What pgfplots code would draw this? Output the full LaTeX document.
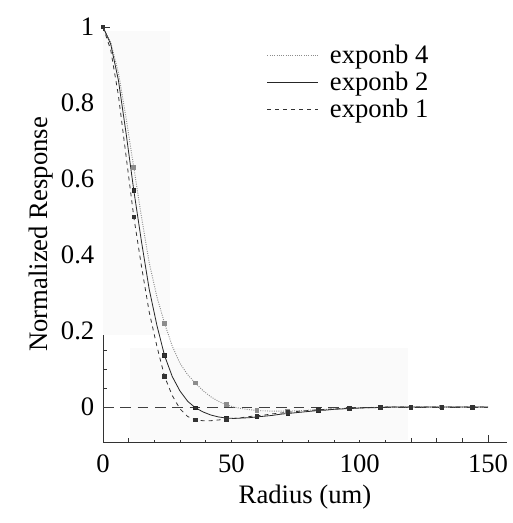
\documentclass[border=0pt]{standalone}
\usepackage{fontspec}
\setmainfont{Liberation Serif}
\newfontfamily\tnr{Liberation Serif}
\usepackage{pgfplots}
\pgfplotsset{compat=1.18}
\usepackage{pgfplotstable}
\pgfplotstableread{
x d4 d2 d1
0 1.0 1.0 1.0
3 0.96 0.955 0.94
6 0.88 0.86 0.82
9 0.76 0.72 0.66
12 0.63 0.57 0.50
15 0.50 0.435 0.37
18 0.38 0.31 0.25
21 0.29 0.215 0.16
24 0.22 0.135 0.08
27 0.16 0.08 0.03
30 0.115 0.042 -0.005
33 0.085 0.015 -0.025
36 0.063 -0.002 -0.034
39 0.043 -0.013 -0.036
42 0.027 -0.021 -0.036
45 0.015 -0.026 -0.034
48 0.006 -0.029 -0.032
51 0.0 -0.030 -0.030
54 -0.004 -0.029 -0.028
57 -0.007 -0.028 -0.025
60 -0.009 -0.026 -0.023
63 -0.010 -0.024 -0.021
66 -0.011 -0.022 -0.018
69 -0.011 -0.019 -0.016
72 -0.011 -0.017 -0.014
75 -0.010 -0.015 -0.012
78 -0.009 -0.013 -0.010
81 -0.008 -0.011 -0.009
84 -0.007 -0.009 -0.007
87 -0.006 -0.008 -0.006
90 -0.005 -0.006 -0.005
93 -0.004 -0.005 -0.004
96 -0.003 -0.004 -0.003
99 -0.002 -0.003 -0.002
102 -0.002 -0.002 -0.002
105 -0.001 -0.002 -0.001
108 -0.001 -0.001 -0.001
111 0 0 0
114 0 0 0
117 0 0 0
120 0 0 0
123 0 0 0
126 0 0 0
129 0 0 0
132 0 0 0
135 0 0 0
138 0 0 0
141 0 0 0
144 0 0 0
147 0 0 0
150 0 0 0
}\datatab
\begin{document}
\begin{tikzpicture}[font=\tnr]
\useasboundingbox (-77.25pt,-60.75pt) rectangle (306.75pt,331.5pt);
\begin{axis}[
  scale only axis,
  width=303pt, height=311.25pt,
  xmin=0, xmax=157.4, ymin=-0.092, ymax=1.0,
  axis lines=left,
  axis line style={-, black!80, line width=0.6pt},
  xtick={0,50,100,150},
  ytick={0,0.2,0.4,0.6,0.8,1},
  yticklabels={0,0.2,0.4,0.6,0.8,1},
  minor x tick num=4,
  minor y tick num=3,
  tick align=inside,
  major tick length=5pt, minor tick length=3pt,
  tick style={black!80, line width=0.5pt},
  tick label style={font=\tnr\fontsize{20}{24}\selectfont},
  xticklabel style={yshift=-6pt},
  yticklabel style={xshift=-3pt},
  /pgf/number format/assume math mode=true,
  xlabel={Radius (um)},
  ylabel={Normalized Response},
  label style={font=\tnr\fontsize{20}{24}\selectfont},
  xlabel style={yshift=-2pt},
  ylabel style={yshift=-1pt},
  clip=false,
  legend style={draw=none, fill=none, at={(axis cs:63.8,0.962)}, anchor=north west,
    font=\tnr\fontsize{20}{24}\selectfont, inner sep=0pt, row sep=0pt,
    nodes={inner sep=2.5pt}, column sep=6pt},
  legend cell align=left,
  legend image code/.code={\draw[#1] (0pt,0pt) -- (38pt,0pt);},
]
\fill[gray!4] (axis cs:0,0.19) rectangle (axis cs:26,0.99);
\fill[gray!4] (axis cs:10.5,-0.088) rectangle (axis cs:119,0.155);
\addplot[forget plot, black!75, dash pattern=on 8pt off 5pt, line width=0.6pt] coordinates {(0,0) (150,0)};
\addplot[black!45, densely dotted, line width=0.7pt, mark=square*, mark repeat=4,
  mark options={solid, fill=black!45, draw=black!45, scale=0.7}] table[x=x, y=d4] {\datatab};
\addlegendentry{exponb 4}
\addplot[black!85, solid, line width=0.6pt, mark=square*, mark repeat=4,
  mark options={solid, fill=black!80, scale=0.7}] table[x=x, y=d2] {\datatab};
\addlegendentry{exponb 2}
\addplot[black!80, dash pattern=on 3pt off 3pt, line width=0.6pt, mark=square*, mark repeat=4,
  mark options={solid, fill=black!80, scale=0.7}] table[x=x, y=d1] {\datatab};
\addlegendentry{exponb 1}
\end{axis}
\end{tikzpicture}
\end{document}
